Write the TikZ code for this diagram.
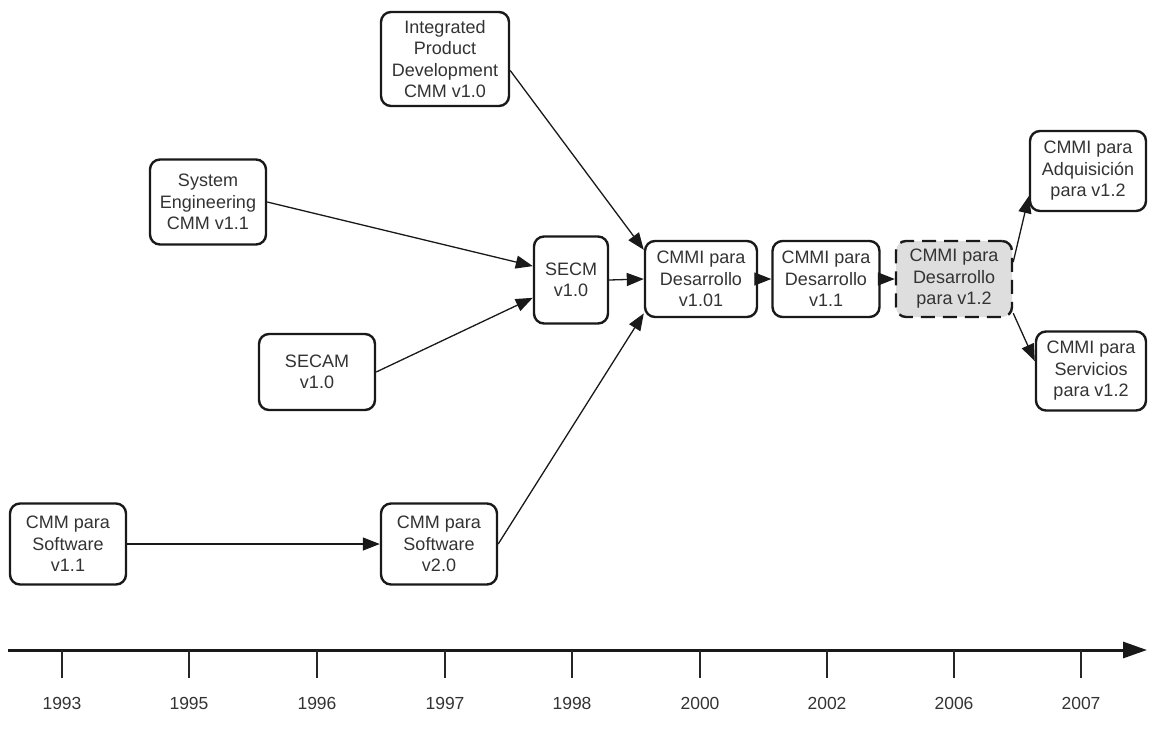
\documentclass[tikz,border=0pt]{standalone}
\usepackage{fontspec}
\setmainfont{Liberation Sans}
\usetikzlibrary{arrows.meta}

\tikzset{
  box/.style={draw=black!90, line width=2.4pt, rounded corners=10pt, align=center,
    fill=white, text=black!80, inner sep=0pt, font=\fontsize{18}{21.5}\selectfont},
  newbox/.style={box, dash pattern=on 14pt off 8pt, fill=black!13},
  link/.style={line width=1.3pt, black!90, -{Triangle[length=17pt,width=13pt]}},
  year/.style={font=\fontsize{17.5}{20}\selectfont, text=black!80},
}

\begin{document}
\begin{tikzpicture}[x=1pt,y=-1pt]
\useasboundingbox (0,0) rectangle (1174,744);

% models
\node[box, minimum width=128pt, minimum height=94pt] (ipd) at (445,59) {Integrated\\Product\\Development\\CMM v1.0};
\node[box, minimum width=116pt, minimum height=85pt] (syseng) at (208,202) {System\\Engineering\\CMM v1.1};
\node[box, minimum width=74pt, minimum height=87pt] (secm) at (571,280) {SECM\\v1.0};
\node[box, minimum width=116pt, minimum height=76pt] (secam) at (317,372) {SECAM\\v1.0};
\node[box, minimum width=116pt, minimum height=81pt] (sw11) at (68,544) {CMM para\\Software\\v1.1};
\node[box, minimum width=116pt, minimum height=81pt] (sw20) at (439,544) {CMM para\\Software\\v2.0};
\node[box, minimum width=112pt, minimum height=76pt] (dev101) at (701,279) {CMMI para\\Desarrollo\\v1.01};
\node[box, minimum width=107pt, minimum height=76pt] (dev11) at (826,279) {CMMI para\\Desarrollo\\v1.1};
\node[newbox, minimum width=116pt, minimum height=76pt] (dev12) at (954,279) {CMMI para\\Desarrollo\\para v1.2};
\node[box, minimum width=116pt, minimum height=80pt] (acq) at (1088,171) {CMMI para\\Adquisición\\para v1.2};
\node[box, minimum width=110pt, minimum height=79pt] (svc) at (1091,371) {CMMI para\\Servicios\\para v1.2};

% links
\draw[link] (ipd.-10) -- (dev101.153);
\draw[link] (syseng.east) -- (secm.160);
\draw[link] (secam.east) -- (secm.205);
\draw[link] (secm.east) -- (dev101.west);
\draw[link] (sw11.east) -- (sw20.west);
\draw[link] (sw20.east) -- (dev101.211);
\draw[link] (dev101.east) -- (dev11.west);
\draw[link] (dev11.east) -- (dev12.west);
\draw[link] (dev12.16) -- (acq.203);
\draw[link] (dev12.-30) -- (svc.170);

% timeline
\draw[line width=3pt, black!90, -{Triangle[length=24pt,width=16pt]}] (8,650) -- (1147,650);
\foreach \x/\yr in {62/1993, 189/1995, 317/1996, 445/1997, 572/1998, 700/2000, 827/2002, 954/2006, 1081/2007} {
  \draw[line width=1.5pt, black!85] (\x,650) -- (\x,678);
  \node[year] (y\yr) at (\x,703) {\yr};
}
\end{tikzpicture}
\end{document}
